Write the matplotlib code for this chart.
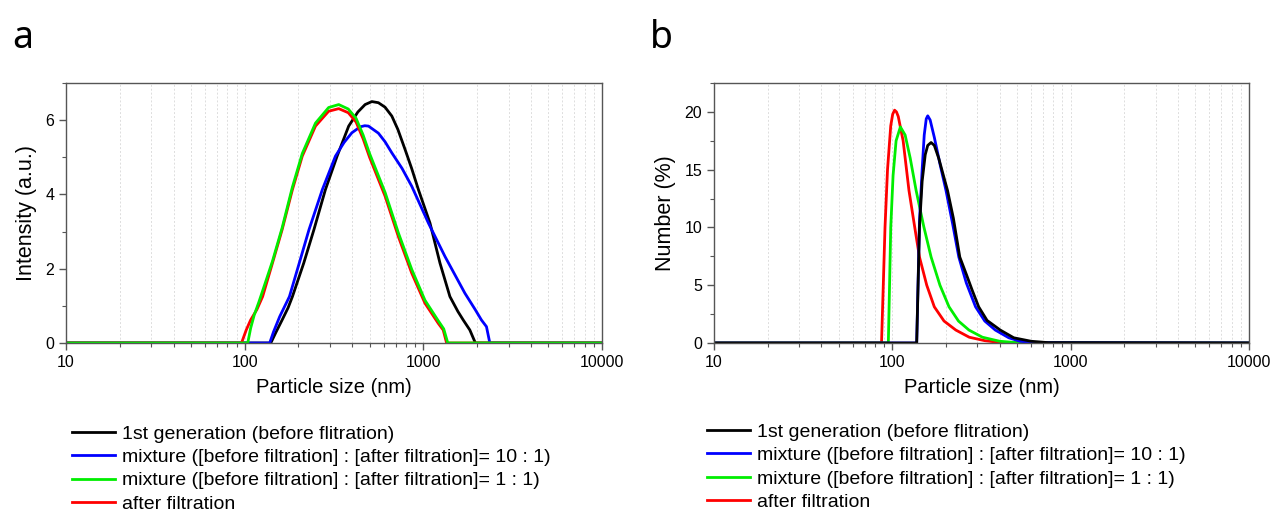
import matplotlib
matplotlib.use('Agg')
import matplotlib.pyplot as plt
from matplotlib.ticker import LogLocator, MultipleLocator, NullFormatter, FixedLocator, FixedFormatter

plt.rcParams['font.family'] = ['Liberation Sans', 'DejaVu Sans']

# ---- panel a : intensity distribution ----
a_black_x = [10, 140, 150, 162, 175, 185, 214, 244, 283, 329, 382, 430, 472, 515, 560, 610, 666, 720, 790, 860, 938, 1089, 1239, 1408, 1560, 1671, 1820, 1955, 10000]
a_black_y = [0, 0, 0.3, 0.62, 0.95, 1.25, 2.15, 3.05, 4.13, 5.03, 5.84, 6.22, 6.42, 6.5, 6.47, 6.35, 6.11, 5.75, 5.21, 4.7, 4.13, 3.23, 2.15, 1.25, 0.85, 0.62, 0.35, 0, 0]

a_blue_x = [10, 138, 145, 157, 178, 202, 229, 272, 322, 360, 398, 443, 470, 493, 560, 610, 666, 760, 861, 1067, 1321, 1708, 1950, 2113, 2255, 2355, 10000]
a_blue_y = [0, 0, 0.3, 0.71, 1.25, 2.15, 3.05, 4.13, 5.03, 5.4, 5.66, 5.82, 5.85, 5.84, 5.65, 5.42, 5.12, 4.7, 4.22, 3.23, 2.33, 1.34, 0.9, 0.62, 0.44, 0, 0]

a_green_x = [10, 104, 108, 113, 120, 130, 143, 162, 185, 210, 249, 295, 336, 380, 420, 460, 500, 611, 724, 861, 1021, 1211, 1300, 1370, 10000]
a_green_y = [0, 0, 0.4, 0.75, 1.1, 1.6, 2.2, 3.1, 4.2, 5.1, 5.92, 6.34, 6.42, 6.3, 6.05, 5.6, 5.1, 4.05, 2.97, 1.98, 1.15, 0.6, 0.38, 0, 0]

a_red_x = [10, 96, 102, 108, 117, 126, 143, 162, 185, 210, 249, 295, 336, 380, 420, 460, 500, 611, 724, 861, 1021, 1211, 1291, 1349, 10000]
a_red_y = [0, 0, 0.35, 0.62, 0.9, 1.25, 2.15, 3.05, 4.13, 5.03, 5.84, 6.24, 6.31, 6.2, 5.95, 5.5, 5.0, 3.95, 2.87, 1.88, 1.07, 0.53, 0.35, 0, 0]

# ---- panel b : number distribution ----
b_black_x = [10, 137, 142, 147, 153, 158, 165, 172, 182, 195, 204, 220, 239, 260, 280, 305, 340, 403, 480, 600, 750, 10000]
b_black_y = [0, 0, 10, 14, 16.3, 17.1, 17.35, 17.1, 16.0, 14.3, 13.2, 10.8, 7.44, 5.95, 4.6, 3.13, 1.95, 1.12, 0.45, 0.15, 0.03, 0]

b_blue_x = [10, 137, 142, 147, 151, 155, 158, 163, 172, 185, 200, 218, 236, 260, 293, 330, 378, 450, 520, 600, 10000]
b_blue_y = [0, 0, 10.5, 15, 18, 19.4, 19.66, 19.3, 17.8, 15.5, 13.2, 10.3, 7.44, 5.2, 3.13, 1.9, 1.12, 0.45, 0.15, 0.03, 0]

b_green_x = [10, 95, 96.5, 98, 101, 105, 111, 118, 126, 136, 150, 165, 185, 208, 235, 269, 320, 400, 500, 10000]
b_green_y = [0, 0, 5, 10, 14.5, 17.5, 18.7, 18.0, 16.0, 13.2, 10.1, 7.44, 5.0, 3.13, 1.9, 1.12, 0.5, 0.15, 0.03, 0]

b_red_x = [10, 87, 89, 91, 94, 98, 100.5, 103, 105.5, 108, 115, 124, 133, 142, 156, 172, 195, 227, 270, 330, 400, 10000]
b_red_y = [0, 0, 5, 10, 15, 18.8, 19.8, 20.15, 20.0, 19.6, 17.5, 13.2, 10.2, 7.44, 5.0, 3.13, 1.9, 1.12, 0.5, 0.2, 0.05, 0]

labels = ['1st generation (before flitration)',
          'mixture ([before filtration] : [after filtration]= 10 : 1)',
          'mixture ([before filtration] : [after filtration]= 1 : 1)',
          'after filtration']
colors = ['#000000', '#0000ff', '#00ee00', '#ff0000']

xticks = [10, 100, 1000, 10000]
xticklabels = ['10', '100', '1000', '10000']

fig = plt.figure(figsize=(12.72, 5.14), dpi=100)
ax_a = fig.add_axes([0.0519, 0.3327, 0.4214, 0.5058])
ax_b = fig.add_axes([0.5613, 0.3327, 0.4206, 0.5058])

lw = 2.0
spine_col = '#555555'


def style_axes(ax, ylabel, ymax, ymajor, yminor):
    ax.set_xscale('log')
    ax.set_xlim(10, 10000)
    ax.set_ylim(0, ymax)
    ax.xaxis.set_major_locator(FixedLocator(xticks))
    ax.xaxis.set_major_formatter(FixedFormatter(xticklabels))
    ax.xaxis.set_minor_locator(LogLocator(base=10, subs=range(2, 10)))
    ax.xaxis.set_minor_formatter(NullFormatter())
    ax.yaxis.set_major_locator(MultipleLocator(ymajor))
    ax.yaxis.set_minor_locator(MultipleLocator(yminor))
    ax.grid(True, which='both', axis='x', color='#dddddd', linestyle=(0, (2, 2)), linewidth=0.7)
    ax.set_axisbelow(True)
    for s in ax.spines.values():
        s.set_color(spine_col)
        s.set_linewidth(1.0)
    ax.tick_params(which='major', direction='out', length=5, width=1, color=spine_col, labelsize=11.5)
    ax.tick_params(which='minor', direction='out', length=3, width=0.8, color=spine_col)
    ax.set_xlabel('Particle size (nm)', fontsize=14.5, labelpad=6)
    ax.set_ylabel(ylabel, fontsize=15.5, labelpad=6)


# panel a (green drawn last)
la_black, = ax_a.plot(a_black_x, a_black_y, color=colors[0], lw=lw)
la_blue, = ax_a.plot(a_blue_x, a_blue_y, color=colors[1], lw=lw)
la_red, = ax_a.plot(a_red_x, a_red_y, color=colors[3], lw=lw)
la_green, = ax_a.plot(a_green_x, a_green_y, color=colors[2], lw=lw)
style_axes(ax_a, 'Intensity (a.u.)', 7, 2, 1)

# panel b (black drawn last)
lb_red, = ax_b.plot(b_red_x, b_red_y, color=colors[3], lw=lw)
lb_green, = ax_b.plot(b_green_x, b_green_y, color=colors[2], lw=lw)
lb_blue, = ax_b.plot(b_blue_x, b_blue_y, color=colors[1], lw=lw)
lb_black, = ax_b.plot(b_black_x, b_black_y, color=colors[0], lw=lw)
style_axes(ax_b, 'Number (%)', 22.5, 5, 2.5)

leg_kw = dict(loc='upper left', frameon=False, fontsize=14, handlelength=2.2,
              handletextpad=0.36, labelspacing=0.3, borderaxespad=0, borderpad=0)
fig.legend([la_black, la_blue, la_green, la_red], labels,
           bbox_to_anchor=(72 / 1272, 1 - 425 / 514), **leg_kw)
fig.legend([lb_black, lb_blue, lb_green, lb_red], labels,
           bbox_to_anchor=(707 / 1272, 1 - 423 / 514), **leg_kw)

fig.text(12 / 1272, 1 - 48 / 514, 'a', fontsize=27, family='Noto Sans')
fig.text(650 / 1272, 1 - 48 / 514, 'b', fontsize=27, family='Noto Sans')

fig.savefig('out.png', dpi=100)
